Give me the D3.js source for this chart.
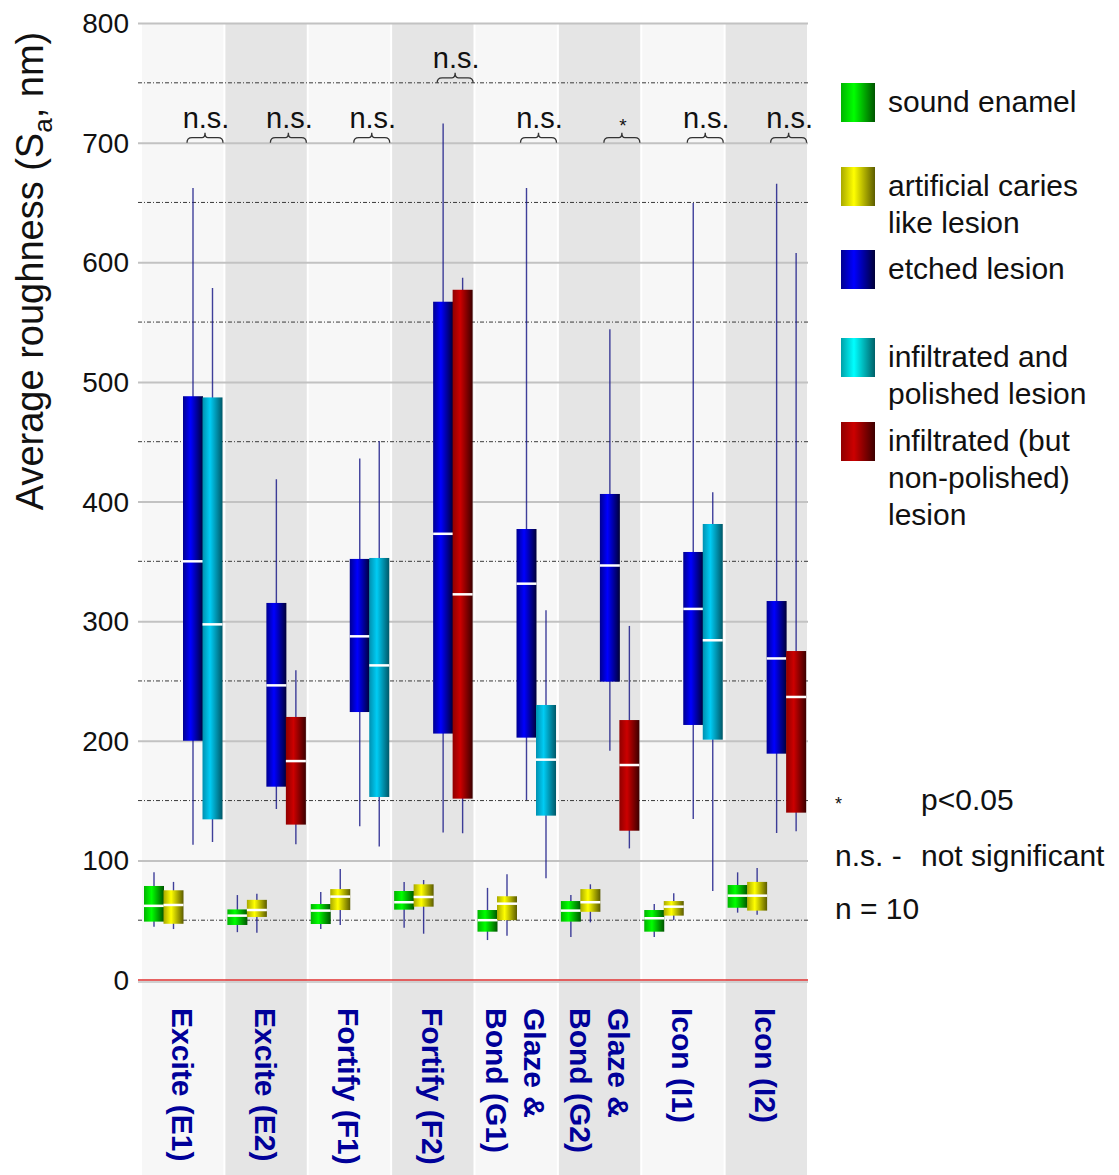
<!DOCTYPE html>
<html>
<head>
<meta charset="utf-8">
<script src="https://cdn.jsdelivr.net/npm/d3@7"></script>
<style>
  body { margin: 0; background: #fff; }
  svg { display: block; font-family: 'Liberation Sans', Arial, sans-serif; }
</style>
</head>
<body>
<svg id="chart" width="1119" height="1175"></svg>
<script>
// categories (x axis), label lines as drawn in the picture
const categories = ['E1', 'E2', 'F1', 'F2', 'G1', 'G2', 'I1', 'I2'];
const categoryLabels = [
  ['Excite (E1)'], ['Excite (E2)'], ['Fortify (F1)'], ['Fortify (F2)'],
  ['Glaze &', 'Bond (G1)'], ['Glaze &', 'Bond (G2)'], ['Icon (I1)'], ['Icon (I2)']
];

// box stats per category: [min, q1, median, q3, max]
const soundEnamel = [
  [44.6, 48.8, 62, 78.6, 90], [40, 46, 53.8, 59, 71], [42.6, 46.8, 58, 63.5, 73.6],
  [43.7, 58.8, 65, 74.4, 82], [33.4, 40.4, 50, 58.5, 77], [36, 48.8, 58, 66, 71],
  [36, 40.4, 51.6, 58.5, 63.5], [56.3, 60.4, 70.5, 79.4, 90]
];
const artificialLesion = [
  [42.6, 47, 62.7, 75, 82], [39.6, 52.7, 58.5, 67, 72], [46, 58.5, 69.7, 76, 92.8],
  [38.7, 61.3, 69.4, 80, 83.6], [37, 50, 63.8, 70, 88.4], [48.2, 57, 65, 76, 80],
  [50, 53.8, 61.3, 66, 72.5], [54.6, 58, 70.5, 82, 93.6]
];
const etchedLesion = [
  [113, 200, 350, 488, 662], [143, 161.6, 246.3, 315.2, 418.5], [128.5, 224, 287.3, 352, 436],
  [123.4, 206, 373, 567, 716], [150.5, 202.6, 331.3, 377, 662], [191.7, 249.4, 346.5, 406.3, 544],
  [134.6, 213.2, 310.2, 357.8, 649.5], [122.9, 189.2, 268.8, 316.8, 665.7]
];
// polished only for E1, F1, G1, I1 ; non-polished only for E2, F2, G2, I2
const polishedLesion = [
  [115.4, 134.3, 297.3, 487, 578.5], null, [111.5, 153, 263, 352.8, 450.6], null,
  [85, 137.4, 184.2, 229.9, 309], null, [74.4, 200.9, 284, 381.2, 407.7], null
];
const nonPolishedLesion = [
  null, [113.4, 129.9, 183, 219.9, 258.9], null, [122.6, 151.6, 322.4, 577, 587],
  null, [110, 124.8, 179.7, 217.3, 296], null, [124.3, 139.9, 236.6, 275, 607.7]
];

// significance between etched and infiltrated
const sigLabels = ['n.s.', 'n.s.', 'n.s.', 'n.s.', 'n.s.', '*', 'n.s.', 'n.s.'];
const sigLevels = [700, 700, 700, 750, 700, 700, 700, 700];

const yTicks = [0, 100, 200, 300, 400, 500, 600, 700, 800];
const yHalfTicks = [50, 150, 250, 350, 450, 550, 650, 750];

const series = [
  { name: 'sound', data: soundEnamel, slot: 0, stops: ['#00b400', '#00ff00', '#005400'] },
  { name: 'artificial', data: artificialLesion, slot: 1, stops: ['#a8a800', '#ffff00', '#5c5c00'] },
  { name: 'etched', data: etchedLesion, slot: 2, stops: ['#000090', '#0000ff', '#000038'] },
  { name: 'polished', data: polishedLesion, slot: 3, stops: ['#0090b0', '#00ccf4', '#005868'] },
  { name: 'nonpolished', data: nonPolishedLesion, slot: 3, stops: ['#900000', '#cc0000', '#3c0000'] }
];

const legendItems = [
  { key: 'sound', lines: ['sound enamel'], y: 83 },
  { key: 'artificial', lines: ['artificial caries', 'like lesion'], y: 167 },
  { key: 'etched', lines: ['etched lesion'], y: 250 },
  { key: 'legendcyan', lines: ['infiltrated and', 'polished lesion'], y: 338 },
  { key: 'nonpolished', lines: ['infiltrated (but', 'non-polished)', 'lesion'], y: 422 }
];

const svg = d3.select('#chart');
const plotTop = 23, zeroY = 980, plotLeft = 141, plotRight = 808;

const x = d3.scaleBand().domain(categories).range([plotLeft, plotRight]);
const slot = d3.scaleBand().domain([0, 1, 2, 3]).range([3, 81]);
const y = d3.scaleLinear().domain([0, 800]).range([zeroY, plotTop]);
const boxW = 20;

// gradients
const defs = svg.append('defs');
const gradSets = series.map((s) => ({ id: s.name, stops: s.stops }))
  .concat([{ id: 'legendcyan', stops: ['#00a0a8', '#00ffff', '#006068'] }]);
gradSets.forEach((gs) => {
  const lg = defs.append('linearGradient').attr('id', 'g-' + gs.id)
    .attr('x1', '0%').attr('x2', '100%').attr('y1', '0%').attr('y2', '0%');
  lg.append('stop').attr('offset', '0%').attr('stop-color', gs.stops[0]);
  lg.append('stop').attr('offset', '38%').attr('stop-color', gs.stops[1]);
  lg.append('stop').attr('offset', '100%').attr('stop-color', gs.stops[2]);
});

// background bands
svg.append('g')
  .selectAll('rect')
  .data(categories)
  .join('rect')
  .attr('x', (d) => x(d) + 1)
  .attr('y', plotTop)
  .attr('width', x.bandwidth() - 2)
  .attr('height', 1175 - plotTop)
  .attr('fill', (d, i) => (i % 2 === 0 ? '#f7f7f7' : '#e5e5e5'));

// grid lines
svg.append('g')
  .selectAll('line')
  .data(yTicks.filter((t) => t > 0))
  .join('line')
  .attr('x1', 138).attr('x2', plotRight)
  .attr('y1', (d) => y(d) + 0.5).attr('y2', (d) => y(d) + 0.5)
  .attr('stroke', '#c2c2c2')
  .attr('stroke-width', 2);

svg.append('g')
  .selectAll('line')
  .data(yHalfTicks)
  .join('line')
  .attr('x1', 138).attr('x2', plotRight)
  .attr('y1', (d) => y(d)).attr('y2', (d) => y(d))
  .attr('stroke', '#3a3a3a')
  .attr('stroke-width', 1)
  .attr('stroke-dasharray', '4,2,1,2');

// zero line
svg.append('line')
  .attr('x1', 138).attr('x2', plotRight)
  .attr('y1', y(0) + 2).attr('y2', y(0) + 2)
  .attr('stroke', '#cfcfcf').attr('stroke-width', 2);
svg.append('line')
  .attr('x1', 138).attr('x2', plotRight)
  .attr('y1', y(0)).attr('y2', y(0))
  .attr('stroke', '#e03030').attr('stroke-width', 1.5);

// y axis labels
svg.append('g')
  .selectAll('text')
  .data(yTicks)
  .join('text')
  .attr('x', 129)
  .attr('y', (d) => y(d) + 10)
  .attr('text-anchor', 'end')
  .attr('font-size', 28)
  .attr('fill', '#111')
  .text((d) => d);

const yTitle = svg.append('text')
  .attr('transform', 'translate(43,271) rotate(-90)')
  .attr('text-anchor', 'middle')
  .attr('font-size', 38)
  .attr('fill', '#111');
yTitle.append('tspan').text('Average roughness (S');
yTitle.append('tspan').attr('font-size', 26).attr('dy', 9).text('a');
yTitle.append('tspan').attr('dy', -9).text(', nm)');

// boxes
const boxes = svg.append('g');
series.forEach((s) => {
  const items = s.data
    .map((v, i) => ({ cat: categories[i], v: v }))
    .filter((d) => d.v);
  const cx = (d) => x(d.cat) + slot(s.slot) + boxW / 2;

  boxes.append('g')
    .selectAll('line')
    .data(items)
    .join('line')
    .attr('x1', cx).attr('x2', cx)
    .attr('y1', (d) => y(d.v[0])).attr('y2', (d) => y(d.v[4]))
    .attr('stroke', '#1e1e8a')
    .attr('stroke-opacity', 0.85)
    .attr('stroke-width', 1.4);

  boxes.append('g')
    .selectAll('rect')
    .data(items)
    .join('rect')
    .attr('x', (d) => cx(d) - boxW / 2)
    .attr('y', (d) => y(d.v[3]))
    .attr('width', boxW)
    .attr('height', (d) => y(d.v[1]) - y(d.v[3]))
    .attr('fill', 'url(#g-' + s.name + ')');

  boxes.append('g')
    .selectAll('line')
    .data(items)
    .join('line')
    .attr('x1', (d) => cx(d) - boxW / 2).attr('x2', (d) => cx(d) + boxW / 2)
    .attr('y1', (d) => y(d.v[2])).attr('y2', (d) => y(d.v[2]))
    .attr('stroke', '#ffffff')
    .attr('stroke-width', 2.5);
});

// significance braces
const braceW = 36, braceH = 10;
const sig = svg.append('g');
categories.forEach((c, i) => {
  const xc = x(c) + 64;
  const yb = y(sigLevels[i]);
  const x0 = xc - braceW / 2, x1 = xc + braceW / 2;
  const ym = yb - braceH / 2;
  sig.append('path')
    .attr('d', `M${x0},${yb} Q${x0},${ym} ${x0 + 5},${ym} L${xc - 3},${ym} Q${xc},${ym} ${xc},${yb - braceH}` +
      ` Q${xc},${ym} ${xc + 3},${ym} L${x1 - 5},${ym} Q${x1},${ym} ${x1},${yb}`)
    .attr('fill', 'none')
    .attr('stroke', '#333')
    .attr('stroke-width', 1.3);
  sig.append('text')
    .attr('x', xc + 1)
    .attr('y', sigLabels[i] === '*' ? yb - 11 : yb - 15)
    .attr('text-anchor', 'middle')
    .attr('font-size', sigLabels[i] === '*' ? 19 : 29)
    .attr('fill', '#111')
    .text(sigLabels[i]);
});

// category labels, rotated
const lineGap = 38;
const catG = svg.append('g');
categories.forEach((c, i) => {
  const lines = categoryLabels[i];
  const xc = x(c) + x.bandwidth() / 2;
  lines.forEach((ln, j) => {
    // first line sits furthest right after rotation
    const bx = xc - 11 + ((lines.length - 1) / 2 - j) * lineGap;
    catG.append('text')
      .attr('transform', `translate(${bx},1008) rotate(90)`)
      .attr('font-size', 30)
      .attr('font-weight', 'bold')
      .attr('fill', '#000099')
      .text(ln);
  });
});

// legend
const legend = svg.append('g');
legendItems.forEach((it) => {
  legend.append('rect')
    .attr('x', 841).attr('y', it.y)
    .attr('width', 34).attr('height', 39)
    .attr('fill', 'url(#g-' + it.key + ')');
  it.lines.forEach((ln, j) => {
    legend.append('text')
      .attr('x', 888)
      .attr('y', it.y + 29 + j * 37)
      .attr('font-size', 30)
      .attr('fill', '#111')
      .text(ln);
  });
});

// notes
const notes = svg.append('g').attr('font-size', 30).attr('fill', '#111');
notes.append('text').attr('x', 835).attr('y', 810).attr('font-size', 18).text('*');
notes.append('text').attr('x', 921).attr('y', 810).text('p<0.05');
notes.append('text').attr('x', 835).attr('y', 866).text('n.s. -');
notes.append('text').attr('x', 921).attr('y', 866).text('not significant');
notes.append('text').attr('x', 835).attr('y', 919).text('n = 10');
</script>
</body>
</html>
